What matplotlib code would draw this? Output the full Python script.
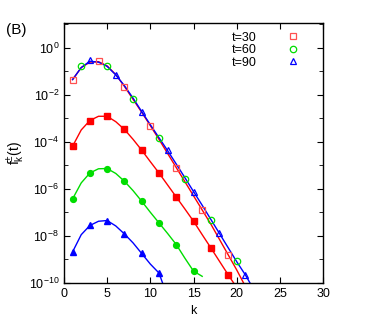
import numpy as np
import matplotlib.pyplot as plt
from matplotlib.ticker import FixedLocator, LogFormatterSciNotation, NullFormatter

plt.rcParams['font.family'] = ['Liberation Sans', 'DejaVu Sans']
plt.rcParams['mathtext.fontset'] = 'custom'
plt.rcParams['mathtext.rm'] = 'Liberation Sans'
plt.rcParams['mathtext.it'] = 'Liberation Sans'

# open symbols (every 3rd k), log10 values
k_sq = [1, 4, 7, 10, 13, 16, 19]
f_sq = [-1.36, -0.58, -1.69, -3.34, -5.11, -6.91, -8.80]
k_ci = [2, 5, 8, 11, 14, 17, 20]
f_ci = [-0.79, -0.79, -2.18, -3.84, -5.57, -7.31, -9.08]
k_tr = [3, 6, 9, 12, 15, 18, 21]
f_tr = [-0.54, -1.16, -2.73, -4.36, -6.13, -7.90, -9.66]

# upper lines
k_up_red = list(range(1, 22))
f_up_red = [-1.36, -0.85, -0.62, -0.60, -0.78, -1.15, -1.65, -2.20, -2.75, -3.32, -3.90,
            -4.50, -5.10, -5.70, -6.30, -6.90, -7.50, -8.15, -8.80, -9.45, -10.15]
k_up_blue = list(range(1, 23))
f_up_blue = [-1.36, -0.85, -0.58, -0.62, -0.80, -1.16, -1.62, -2.15, -2.72, -3.28, -3.83,
             -4.38, -4.95, -5.53, -6.12, -6.70, -7.30, -7.90, -8.50, -9.10, -9.66, -10.3]

# filled symbols (every 2nd k)
k_fsq = [1, 3, 5, 7, 9, 11, 13, 15, 17, 19]
f_fsq = [-4.19, -3.10, -2.92, -3.48, -4.36, -5.33, -6.35, -7.38, -8.51, -9.65]
k_fci = [1, 3, 5, 7, 9, 11, 13, 15]
f_fci = [-6.43, -5.33, -5.14, -5.68, -6.53, -7.45, -8.37, -9.50]
k_ftr = [1, 3, 5, 7, 9, 11]
f_ftr = [-8.68, -7.56, -7.35, -7.92, -8.75, -9.58]

# lower lines
k_lo_red = list(range(1, 21))
f_lo_red = [-4.19, -3.50, -3.10, -2.92, -2.92, -3.15, -3.48, -3.90, -4.36, -4.85,
            -5.33, -5.84, -6.35, -6.86, -7.38, -7.95, -8.51, -9.08, -9.65, -10.2]
k_lo_green = list(range(1, 17))
f_lo_green = [-6.43, -5.75, -5.33, -5.15, -5.14, -5.35, -5.68, -6.08, -6.53, -7.00,
              -7.45, -7.90, -8.37, -8.95, -9.50, -9.72]
k_lo_blue = list(range(1, 13))
f_lo_blue = [-8.68, -7.95, -7.56, -7.38, -7.35, -7.58, -7.92, -8.30, -8.75, -9.20,
             -9.58, -10.6]

labels = ['t=30', 't=60', 't=90']
y_major = [1e-10, 1e-8, 1e-6, 1e-4, 1e-2, 1e0]
y_minor = [1e-9, 1e-7, 1e-5, 1e-3, 1e-1, 1e1]

red = '#ff0000'
red_open = '#ff5050'
green = '#00dd00'
blue = '#0000ff'

fig = plt.figure(figsize=(3.74, 3.36), dpi=100)
ax = fig.add_axes([0.171, 0.158, 0.693, 0.774])

def p(v):
    return 10.0 ** np.array(v)

ax.plot(k_up_red, p(f_up_red), color=red, lw=1)
ax.plot(k_up_blue, p(f_up_blue), color=blue, lw=1)
ax.plot(k_lo_red, p(f_lo_red), color=red, lw=1)
ax.plot(k_lo_green, p(f_lo_green), color=green, lw=1)
ax.plot(k_lo_blue, p(f_lo_blue), color=blue, lw=1)

ax.plot(k_fsq, p(f_fsq), 's', color=red, ms=4.2)
ax.plot(k_fci, p(f_fci), 'o', color=green, ms=4.2)
ax.plot(k_ftr, p(f_ftr), '^', color=blue, ms=4.2)

h1, = ax.plot(k_sq, p(f_sq), 's', mfc='none', mec=red_open, mew=0.9, ms=4.6, label=labels[0])
h2, = ax.plot(k_ci, p(f_ci), 'o', mfc='none', mec=green, mew=0.9, ms=4.6, label=labels[1])
h3, = ax.plot(k_tr, p(f_tr), '^', mfc='none', mec=blue, mew=0.9, ms=4.6, label=labels[2])

ax.set_yscale('log')
ax.set_xlim(0, 30)
ax.set_ylim(1e-10, 10 ** 1.05)
ax.set_xticks([0, 5, 10, 15, 20, 25, 30])
ax.yaxis.set_major_locator(FixedLocator(y_major))
ax.yaxis.set_major_formatter(LogFormatterSciNotation())
ax.yaxis.set_minor_locator(FixedLocator(y_minor))
ax.yaxis.set_minor_formatter(NullFormatter())
ax.tick_params(which='both', direction='in', top=True, right=True, labelsize=9)
ax.tick_params(which='major', length=4)
ax.tick_params(which='minor', length=3)
for s in ax.spines.values():
    s.set_linewidth(1)

ax.set_xlabel('k', fontsize=9, labelpad=4)
ax.set_ylabel(r'f$^{\pm}_{\rm k}$(t)', fontsize=10, labelpad=1)

ax.legend(handles=[h1, h2, h3], loc='upper right', frameon=False, markerfirst=False,
          fontsize=9, handlelength=1, handletextpad=2.4, labelspacing=0.05,
          borderaxespad=0.3, bbox_to_anchor=(0.94, 1.0))

fig.text(0.015, 0.9, '(B)', fontsize=11)

fig.savefig('out.png', dpi=100)
